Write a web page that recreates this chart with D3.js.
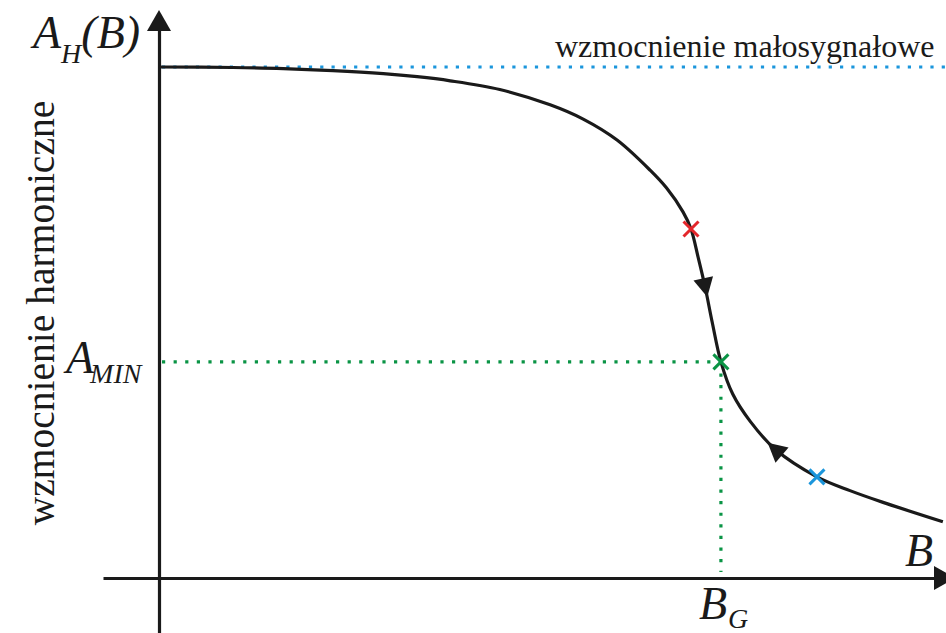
<!DOCTYPE html>
<html>
<head>
<meta charset="utf-8">
<script src="https://cdn.jsdelivr.net/npm/d3@7"></script>
<style>
  html, body { margin: 0; padding: 0; background: #fff; }
  svg { display: block; }
</style>
</head>
<body>
<svg id="chart" width="946" height="633"></svg>
<script>
// Harmonic gain A_H as a function of drive amplitude B (0..100 units)
const curveB = [0, 9.4, 15.8, 22.1, 28.5, 32.8, 37.0, 43.3, 49.7, 53.9, 58.2, 62.4, 64.5, 66.6, 67.6, 68.5, 69.4, 70.3, 71.4, 72.9, 75.1, 78.3, 83.6, 87.8, 92.0, 99.6];
const curveA = [100, 99.9, 99.7, 99.3, 98.7, 98.1, 97.3, 95.6, 92.6, 89.8, 85.7, 79.8, 76.3, 71.6, 68.3, 62.8, 56.9, 50.0, 42.3, 36.0, 30.7, 25.2, 19.8, 17.1, 14.8, 11.0];

// Small-signal gain level
const smallSignalGain = 100;

// Operating points marked on the curve
const markB = [67.6, 71.4, 83.6];
const markA = [68.3, 42.3, 19.8];
const markColor = ["#e3262b", "#0a9445", "#1b96dc"];

// Limit point (B_G, A_MIN) = green mark
const BG = 71.4, AMIN = 42.3;

// Direction arrows along the curve: position (B) and sense (+1 along increasing B)
const arrowB = [69.4, 78.3];
const arrowDir = [1, -1];

const svg = d3.select("#chart");
const W = 946, H = 633;
const plotLeft = 159, plotRight = 946, plotTop = 67, plotBottom = 578;
const serif = "Liberation Serif";

const x = d3.scaleLinear().domain([0, 100]).range([plotLeft, plotRight]);
const y = d3.scaleLinear().domain([0, 100]).range([plotBottom, plotTop]);

const ink = "#1a1a1a";

// Axes (no ticks), extended past the plot area
const xAxisScale = d3.scaleLinear().domain([x.invert(103), x.invert(940)]).range([103, 940]);
const yAxisScale = d3.scaleLinear().domain([y.invert(633), y.invert(26)]).range([633, 26]);

const gx = svg.append("g").attr("transform", `translate(0,${plotBottom})`)
  .call(d3.axisBottom(xAxisScale).tickValues([]).tickSizeOuter(0));
gx.select(".domain").attr("stroke", ink).attr("stroke-width", 3.2);

const gy = svg.append("g").attr("transform", `translate(${plotLeft},0)`)
  .call(d3.axisLeft(yAxisScale).tickValues([]).tickSizeOuter(0));
gy.select(".domain").attr("stroke", ink).attr("stroke-width", 3.2);

// Axis arrowheads
svg.append("path")
  .attr("d", `M${plotLeft},10 L${plotLeft + 12},31 L${plotLeft - 12},31 Z`)
  .attr("fill", ink);
svg.append("path")
  .attr("d", `M955,${plotBottom} L934,${plotBottom + 12} L934,${plotBottom - 12} Z`)
  .attr("fill", ink);

// Small-signal gain reference (blue dotted)
svg.append("line")
  .attr("x1", x(0) + 3).attr("x2", W)
  .attr("y1", y(smallSignalGain)).attr("y2", y(smallSignalGain))
  .attr("stroke", "#1b96dc").attr("stroke-width", 3.2)
  .attr("stroke-dasharray", "3.2 8.1");

// Guides to B_G and A_MIN (green dotted)
const green = "#0a9445";
svg.append("line")
  .attr("x1", x(0) + 3).attr("x2", x(BG))
  .attr("y1", y(AMIN)).attr("y2", y(AMIN))
  .attr("stroke", green).attr("stroke-width", 3.2)
  .attr("stroke-dasharray", "3.2 8.4");
svg.append("line")
  .attr("x1", x(BG)).attr("x2", x(BG))
  .attr("y1", y(AMIN)).attr("y2", y(0) - 6)
  .attr("stroke", green).attr("stroke-width", 3.2)
  .attr("stroke-dasharray", "3.2 8.4");

// Gain curve
const pts = curveB.map((b, i) => [b, curveA[i]]);
const line = d3.line().x(d => x(d[0])).y(d => y(d[1])).curve(d3.curveCatmullRom.alpha(0.5));
const path = svg.append("path")
  .attr("d", line(pts))
  .attr("fill", "none")
  .attr("stroke", ink)
  .attr("stroke-width", 3.2);

// Arrowheads along the curve
const node = path.node();
const total = node.getTotalLength();
function lengthAtX(px) {
  let lo = 0, hi = total;
  for (let k = 0; k < 40; k++) {
    const mid = (lo + hi) / 2;
    if (node.getPointAtLength(mid).x < px) lo = mid; else hi = mid;
  }
  return (lo + hi) / 2;
}
arrowB.forEach((b, i) => {
  const L = lengthAtX(x(b));
  const p0 = node.getPointAtLength(Math.max(0, L - 4));
  const p1 = node.getPointAtLength(Math.min(total, L + 4));
  let ang = Math.atan2(p1.y - p0.y, p1.x - p0.x) * 180 / Math.PI;
  if (arrowDir[i] < 0) ang += 180;
  const c = node.getPointAtLength(L);
  svg.append("path")
    .attr("d", "M10,0 L-9,-10 L-9,10 Z")
    .attr("fill", ink)
    .attr("transform", `translate(${c.x},${c.y}) rotate(${ang})`);
});

// Operating-point crosses
markB.forEach((b, i) => {
  const cx = x(b), cy = y(markA[i]), s = 7.5;
  const g = svg.append("g").attr("stroke", markColor[i]).attr("stroke-width", 3);
  g.append("line").attr("x1", cx - s).attr("y1", cy - s).attr("x2", cx + s).attr("y2", cy + s);
  g.append("line").attr("x1", cx - s).attr("y1", cy + s).attr("x2", cx + s).attr("y2", cy - s);
});

// Labels
const big = 46, sub = 28;
function label(px, py) {
  return svg.append("text").attr("x", px).attr("y", py)
    .attr("font-family", serif).attr("font-style", "italic")
    .attr("font-size", big).attr("fill", ink);
}

const tAH = label(33, 48);
tAH.append("tspan").text("A");
tAH.append("tspan").attr("dy", 15).attr("font-size", sub).text("H");
tAH.append("tspan").attr("dy", -15).text("(B)");

const tAM = label(66, y(AMIN) + 11);
tAM.append("tspan").text("A");
tAM.append("tspan").attr("dy", 10).attr("dx", -4).attr("font-size", sub).text("MIN");

const tBG = label(699, 619);
tBG.append("tspan").text("B");
tBG.append("tspan").attr("dy", 9).attr("dx", 1).attr("font-size", sub).text("G");

label(905, 566).text("B");

svg.append("text").attr("x", 555).attr("y", 57)
  .attr("font-family", serif).attr("font-size", 32).attr("fill", ink)
  .text("wzmocnienie małosygnałowe");

svg.append("text")
  .attr("transform", "translate(54,313) rotate(-90)")
  .attr("text-anchor", "middle")
  .attr("font-family", serif).attr("font-size", 39.5).attr("fill", ink)
  .text("wzmocnienie harmoniczne");
</script>
</body>
</html>
